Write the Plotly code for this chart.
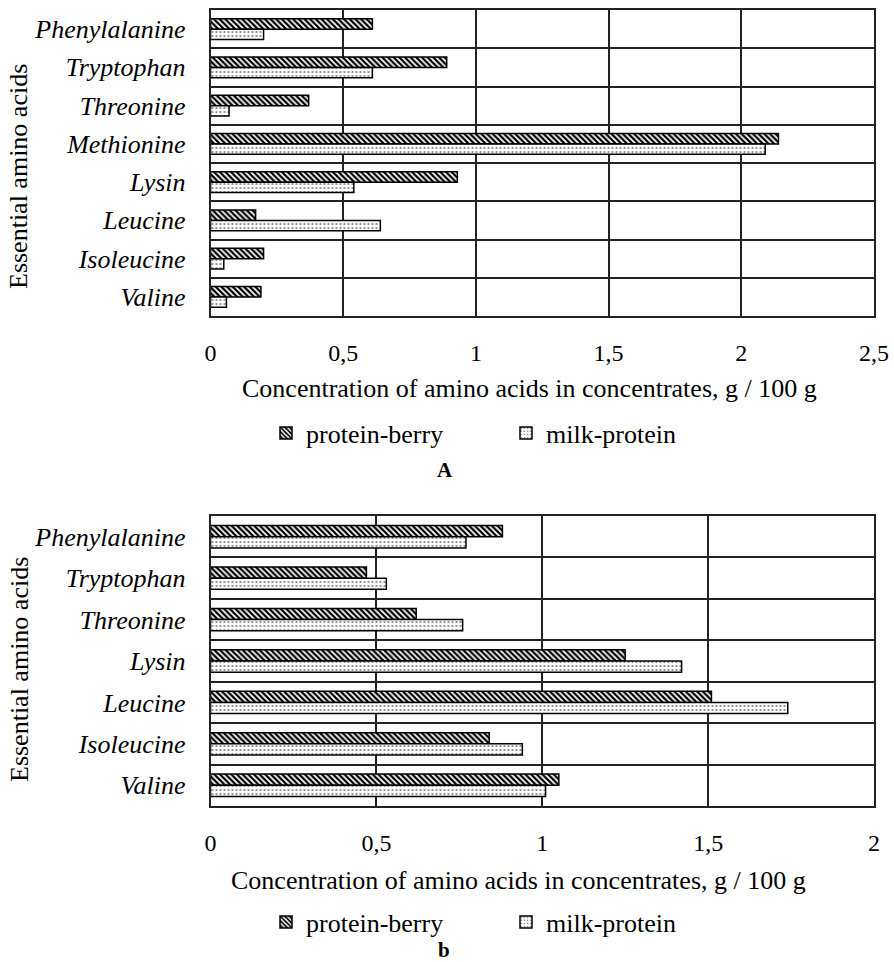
import plotly.graph_objects as go

# ---------------- data ----------------
cats_a = ["Phenylalanine", "Tryptophan", "Threonine", "Methionine",
          "Lysin", "Leucine", "Isoleucine", "Valine"]
berry_a = [0.61, 0.89, 0.37, 2.14, 0.93, 0.17, 0.20, 0.19]
milk_a = [0.20, 0.61, 0.07, 2.09, 0.54, 0.64, 0.05, 0.06]

cats_b = ["Phenylalanine", "Tryptophan", "Threonine", "Lysin",
          "Leucine", "Isoleucine", "Valine"]
berry_b = [0.88, 0.47, 0.62, 1.25, 1.51, 0.84, 1.05]
milk_b = [0.77, 0.53, 0.76, 1.42, 1.74, 0.94, 1.01]

ticks_a = [0, 0.5, 1, 1.5, 2, 2.5]
ticklabels_a = ["0", "0,5", "1", "1,5", "2", "2,5"]
ticks_b = [0, 0.5, 1, 1.5, 2]
ticklabels_b = ["0", "0,5", "1", "1,5", "2"]

series_names = ["protein-berry", "milk-protein"]
x_title = "Concentration of amino acids in concentrates, g / 100 g"
y_title = "Essential amino acids"

# ---------------- styling ----------------
W, H = 894, 962
FONT = "Liberation Serif"

hatch = dict(shape="\\", fgcolor="black", bgcolor="white", size=4,
             solidity=0.55, fillmode="replace")
dots = dict(shape=".", fgcolor="black", bgcolor="white", size=4,
            solidity=0.12, fillmode="replace")

fig = go.Figure()

def add_pair(cats, b, m, xa, ya, leg):
    fig.add_trace(go.Bar(y=cats, x=b, orientation="h", name=series_names[0],
                         marker=dict(color="white", pattern=hatch,
                                     line=dict(color="black", width=1.5)),
                         xaxis=xa, yaxis=ya, legend=leg))
    fig.add_trace(go.Bar(y=cats, x=m, orientation="h", name=series_names[1],
                         marker=dict(color="white", pattern=dots,
                                     line=dict(color="black", width=1.5)),
                         xaxis=xa, yaxis=ya, legend=leg))

add_pair(cats_a, berry_a, milk_a, "x", "y", "legend")
add_pair(cats_b, berry_b, milk_b, "x2", "y2", "legend2")

def px_x(p):
    return p / W

def px_y(p):
    return 1 - p / H

xdom = [px_x(210.5), px_x(874)]
ydom_a = [px_y(316), px_y(10)]
ydom_b = [px_y(806), px_y(516)]

xaxis_common = dict(showgrid=True, gridcolor="#222222", gridwidth=1.5,
                    zeroline=False, showline=True, mirror=True,
                    linecolor="#222222", linewidth=1.5, ticks="",
                    automargin=False, ticklabelstandoff=14,
                    tickfont=dict(family=FONT, size=24, color="black"))
yaxis_common = dict(type="category", autorange="reversed", tickson="boundaries",
                    showgrid=True, gridcolor="#222222", gridwidth=1.5,
                    showline=True, mirror=True, linecolor="#222222", linewidth=1.5,
                    ticks="", ticklabelstandoff=18, automargin=False,
                    tickfont=dict(family=FONT, size=26, color="black", style="italic"))

fig.update_layout(
    width=W, height=H, autosize=False,
    margin=dict(l=0, r=0, t=0, b=0, pad=0),
    paper_bgcolor="white", plot_bgcolor="white",
    barmode="group", bargap=0.46, bargroupgap=0,
    font=dict(family=FONT, color="black"),
    xaxis=dict(domain=xdom, anchor="y", range=[0, 2.5], tickvals=ticks_a,
               ticktext=ticklabels_a, **xaxis_common),
    yaxis=dict(domain=ydom_a, anchor="x", categoryorder="array",
               categoryarray=cats_a, **yaxis_common),
    xaxis2=dict(domain=xdom, anchor="y2", range=[0, 2], tickvals=ticks_b,
                ticktext=ticklabels_b, **xaxis_common),
    yaxis2=dict(domain=ydom_b, anchor="x2", categoryorder="array",
                categoryarray=cats_b, **yaxis_common),
    legend=dict(orientation="h", x=px_x(266), y=px_y(433), xanchor="left",
                yanchor="middle", entrywidth=195, entrywidthmode="pixels",
                font=dict(family=FONT, size=26, color="black"),
                bgcolor="rgba(0,0,0,0)"),
    legend2=dict(orientation="h", x=px_x(266), y=px_y(922), xanchor="left",
                 yanchor="middle", entrywidth=195, entrywidthmode="pixels",
                 font=dict(family=FONT, size=26, color="black"),
                 bgcolor="rgba(0,0,0,0)"),
)

annos = [
    dict(text=x_title, x=px_x(529), y=px_y(388), size=26),
    dict(text=x_title, x=px_x(518), y=px_y(880), size=26),
    dict(text="<b>A</b>", x=px_x(445), y=px_y(470), size=21),
    dict(text="<b>b</b>", x=px_x(444), y=px_y(950), size=21),
]
for a in annos:
    fig.add_annotation(text=a["text"], x=a["x"], y=a["y"], xref="paper", yref="paper",
                       xanchor="center", yanchor="middle", showarrow=False,
                       font=dict(family=FONT, size=a["size"], color="black"))

for yc in (177, 670):
    fig.add_annotation(text=y_title, x=px_x(19), y=px_y(yc), xref="paper", yref="paper",
                       xanchor="center", yanchor="middle", showarrow=False,
                       textangle=-90,
                       font=dict(family=FONT, size=26, color="black"))

fig.write_html("out.html",
               config={"displayModeBar": False},
               post_script="document.body.style.margin='0';"
                           "document.body.style.overflow='hidden';")
